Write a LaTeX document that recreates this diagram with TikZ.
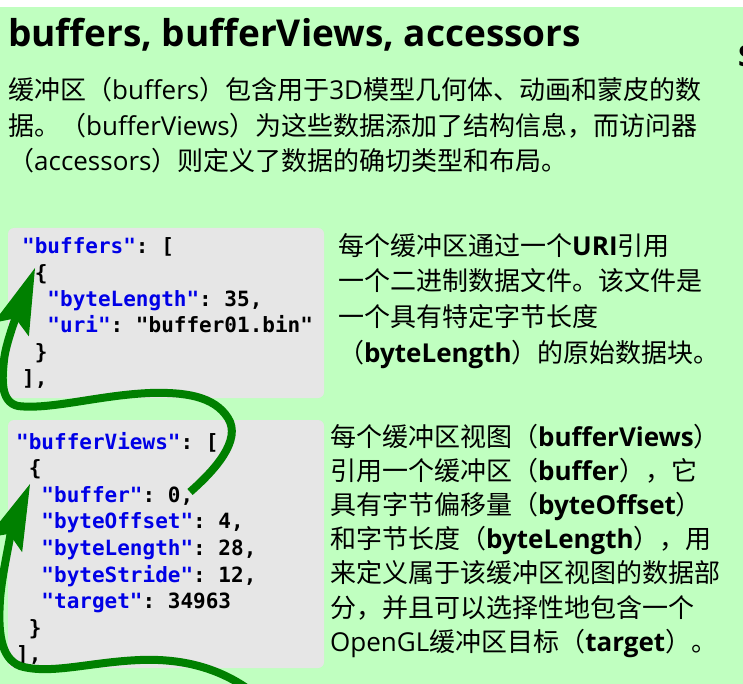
\documentclass[tikz,border=0pt]{standalone}
\usepackage{fontspec}
\setmainfont{Open Sans}
\setmonofont{DejaVu Sans Mono}
\newfontfamily\zhfont{Noto Sans CJK SC}
\newfontfamily\latinfont{Open Sans}
\usetikzlibrary{arrows.meta}

\definecolor{bggreen}{RGB}{192,255,192}
\definecolor{codegray}{RGB}{230,230,230}
\definecolor{keyblue}{RGB}{0,0,230}
\definecolor{arrowgreen}{RGB}{0,128,0}

\newcommand{\en}[1]{{\latinfont #1}}
\newcommand{\enb}[1]{{\latinfont\bfseries #1}}
\newcommand{\key}[1]{\textcolor{keyblue}{"#1"}}
\newcommand{\idt}{\phantom{0}}

\tikzset{
  codebox/.style={fill=codegray, rounded corners=6pt},
  codeline/.style={anchor=base west, inner sep=0pt, font=\ttfamily\bfseries\fontsize{21}{21}\selectfont},
  noteline/.style={anchor=base west, inner sep=0pt, font=\zhfont\fontsize{26}{26}\selectfont},
  refarrow/.style={arrowgreen, line width=8pt, -{Stealth[length=66pt,width=38pt,inset=12pt,line width=0pt]}}
}

\begin{document}
\begin{tikzpicture}[x=1pt,y=-1pt]
\useasboundingbox (0,0) rectangle (743,684);
\fill[white] (0,0) rectangle (743,684);
\fill[bggreen] (0,7) rectangle (743,684);

% heading and intro
\node[anchor=base west, inner sep=0pt, font=\bfseries\fontsize{37}{37}\selectfont] (title) at (8,47) {buffers, bufferViews, accessors};
\node[anchor=base west, inner sep=0pt, font=\bfseries\fontsize{29}{29}\selectfont] (edge) at (738,67) {S};
\foreach \t [count=\i from 0] in {
  {缓冲区（\en{buffers}）包含用于\en{3D}模型几何体、动画和蒙皮的数},
  {据。（\en{bufferViews}）为这些数据添加了结构信息，而访问器},
  {（\en{accessors}）则定义了数据的确切类型和布局。}}
  \node[noteline] (intro\i) at (8,100+35.5*\i) {\t};

% buffers
\fill[codebox] (8,228) rectangle (324,398);
\foreach \t [count=\i from 0] in {
  {\key{buffers}: [},
  {\idt\{},
  {\idt\idt\key{byteLength}: 35,},
  {\idt\idt\key{uri}: "buffer01.bin"},
  {\idt\}},
  {],}}
  \node[codeline] (buf\i) at (22,254+26.3*\i) {\t};
\foreach \t [count=\i from 0] in {
  {每个缓冲区通过一个\enb{URI}引用},
  {一个二进制数据文件。该文件是},
  {一个具有特定字节长度},
  {（\enb{byteLength}）的原始数据块。}}
  \node[noteline] (bufnote\i) at (338,255+35.7*\i) {\t};

% bufferViews
\fill[codebox] (8,420) rectangle (324,668);
\foreach \t [count=\i from 0] in {
  {\key{bufferViews}: [},
  {\idt\{},
  {\idt\idt\key{buffer}: 0,},
  {\idt\idt\key{byteOffset}: 4,},
  {\idt\idt\key{byteLength}: 28,},
  {\idt\idt\key{byteStride}: 12,},
  {\idt\idt\key{target}: 34963},
  {\idt\}},
  {],}}
  \node[codeline] (bv\i) at (16,449+26.6*\i) {\t};
\foreach \t [count=\i from 0] in {
  {每个缓冲区视图（\enb{bufferViews}）},
  {引用一个缓冲区（\enb{buffer}），它},
  {具有字节偏移量（\enb{byteOffset}）},
  {和字节长度（\enb{byteLength}），用},
  {来定义属于该缓冲区视图的数据部},
  {分，并且可以选择性地包含一个},
  {\en{OpenGL}缓冲区目标（\enb{target}）。}}
  \node[noteline] (bvnote\i) at (330,446+34.2*\i) {\t};

% references
\coordinate (bvbuf) at (190,492);
\coordinate (bufobj) at (35,268);
\coordinate (offpage) at (262,700);
\coordinate (bvobj) at (30,484);
\draw[refarrow] (bvbuf) .. controls (215,470) and (242,440) .. (228,418)
  .. controls (214,396) and (185,392) .. (150,393)
  .. controls (100,395) and (50,410) .. (18,406)
  .. controls (0,402) and (2,378) .. (4,360)
  .. controls (6,340) and (23,299) .. (bufobj);
\draw[refarrow] (offpage) .. controls (230,672) and (190,658) .. (140,660)
  .. controls (90,662) and (50,675) .. (20,666)
  .. controls (0,658) and (-2,630) .. (0,600)
  .. controls (2,570) and (15,520) .. (bvobj);
\end{tikzpicture}
\end{document}
